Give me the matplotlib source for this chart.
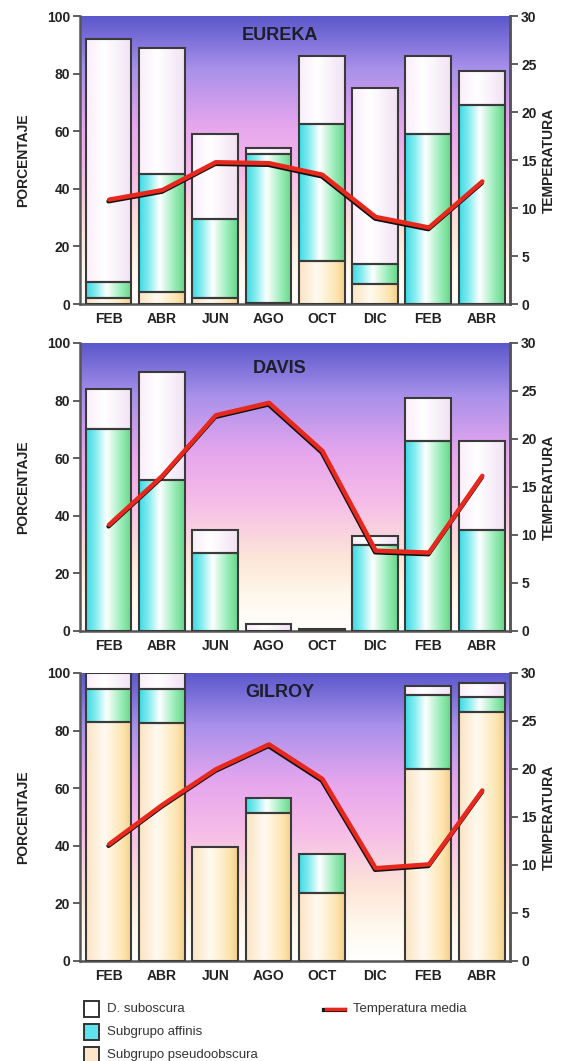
import numpy as np
import matplotlib
matplotlib.use("Agg")
import matplotlib.pyplot as plt
import matplotlib.transforms as mtransforms
from matplotlib.colors import LinearSegmentedColormap
from matplotlib.patches import Rectangle
from matplotlib.lines import Line2D

plt.rcParams["font.family"] = ["Liberation Sans", "DejaVu Sans"]

# ── data ──────────────────────────────────────────────────────────────────────
months = ["FEB", "ABR", "JUN", "AGO", "OCT", "DIC", "FEB", "ABR"]
sites = ["EUREKA", "DAVIS", "GILROY"]

# percentages per group (stacked: pseudoobscura, affinis, subobscura)
eureka_pseudo = [2, 4, 2, 0.5, 15, 7, 0, 0]
eureka_affinis = [5.5, 41, 27.5, 51.5, 47.5, 7, 59, 69]
eureka_subobs = [84.5, 44, 29.5, 2, 23.5, 61, 27, 12]
eureka_temp = [10.7, 11.7, 14.6, 14.5, 13.3, 8.9, 7.8, 12.6]

davis_pseudo = [0, 0, 0, 0, 0, 0, 0, 0]
davis_affinis = [70, 52.5, 27, 0, 0, 30, 66, 35]
davis_subobs = [14, 37.5, 8, 2.5, 0.8, 3, 15, 31]
davis_temp = [10.9, 16.0, 22.3, 23.6, 18.6, 8.2, 8.0, 16.0]

gilroy_pseudo = [83, 82.5, 39.5, 51.5, 23.5, 0, 66.5, 86.5]
gilroy_affinis = [11.5, 12, 0, 5, 13.5, 0, 26, 5]
gilroy_subobs = [5.5, 5.5, 0, 0, 0, 0, 3, 5]
gilroy_temp = [12.0, 16.1, 19.8, 22.4, 18.8, 9.5, 9.9, 17.6]

PSEUDO = [eureka_pseudo, davis_pseudo, gilroy_pseudo]
AFFINIS = [eureka_affinis, davis_affinis, gilroy_affinis]
SUBOBS = [eureka_subobs, davis_subobs, gilroy_subobs]
TEMPS = [eureka_temp, davis_temp, gilroy_temp]

legend_labels = ["D. suboscura", "Subgrupo affinis", "Subgrupo pseudoobscura"]
line_label = "Temperatura media"

# ── colours ───────────────────────────────────────────────────────────────────
bg_cmap = LinearSegmentedColormap.from_list("bg", [
    (0.00, "#ffffff"), (0.12, "#fff8ec"), (0.25, "#fde6d8"),
    (0.45, "#f6bce8"), (0.62, "#e6a6ee"), (0.82, "#a890ea"), (1.00, "#5b58cc")])
aff_cmap = LinearSegmentedColormap.from_list("aff", [
    (0.0, "#3cdbe4"), (0.22, "#8ceef0"), (0.45, "#ffffff"),
    (0.72, "#a8f0c4"), (1.0, "#66d889")])
pse_cmap = LinearSegmentedColormap.from_list("pse", [
    (0.0, "#fbe4c4"), (0.4, "#fffaf0"), (0.8, "#fde6b4"), (1.0, "#f4d08a")])
sub_cmap = LinearSegmentedColormap.from_list("sub", [
    (0.0, "#fbeefa"), (0.4, "#ffffff"), (1.0, "#f2e2f4")])
EDGE = "#3a3a3a"
TXT = "#222222"

W, H = 577, 1061
fig = plt.figure(figsize=(W / 100, H / 100), dpi=100)
fig.patch.set_facecolor("white")

grad_h = np.linspace(0, 1, 64).reshape(1, -1)
grad_v = np.linspace(0, 1, 256).reshape(-1, 1)

AX_L, AX_R = 80, 510
panel_bottoms = [304, 631, 961]
title_y = [0.934, 0.913, 0.934]
x = np.arange(len(months))
bw = 0.86
XL = (-0.535, 7.53)


def seg(ax, xc, y0, h, cmap):
    if h <= 0:
        return
    ax.imshow(grad_h, cmap=cmap, aspect="auto", origin="lower",
              extent=(xc - bw / 2, xc + bw / 2, y0, y0 + h), zorder=2,
              interpolation="bilinear")
    ax.add_patch(Rectangle((xc - bw / 2, y0), bw, h, fill=False,
                           edgecolor=EDGE, linewidth=1.5, zorder=3))


for k in range(3):
    b = panel_bottoms[k]
    ax = fig.add_axes([AX_L / W, (H - b) / H, (AX_R - AX_L) / W, 288 / H])
    ax.imshow(grad_v, cmap=bg_cmap, aspect="auto", origin="lower",
              extent=(XL[0], XL[1], 0, 100), zorder=0, interpolation="bilinear")

    for i in x:
        p, a, s = PSEUDO[k][i], AFFINIS[k][i], SUBOBS[k][i]
        seg(ax, i, 0, p, pse_cmap)
        seg(ax, i, p, a, aff_cmap)
        seg(ax, i, p + a, s, sub_cmap)
    ax.set_xlim(*XL)
    ax.set_ylim(0, 100)
    ax.set_xticks(x)
    ax.set_xticklabels(months, fontsize=10, fontweight="bold", color=TXT)
    ax.set_yticks(range(0, 101, 20))
    ax.set_yticklabels([str(v) for v in range(0, 101, 20)], fontsize=10,
                       fontweight="bold", color=TXT)
    ax.tick_params(axis="x", length=0, pad=6)
    ax.tick_params(axis="y", length=5, width=1.2, color="#444444", pad=2)
    for sp in ["left", "bottom", "right"]:
        ax.spines[sp].set_color("#555555")
        ax.spines[sp].set_linewidth(1.8)
    ax.spines["top"].set_visible(False)
    ax.set_ylabel("PORCENTAJE", fontsize=10, fontweight="bold", color=TXT,
                  labelpad=12)
    ax.text(0.465, title_y[k], sites[k], transform=ax.transAxes, ha="center",
            va="center", fontsize=13, fontweight="bold", color="#1e1e2a",
            zorder=5)

    ax2 = ax.twinx()
    ax2.set_ylim(0, 30)
    ax2.set_yticks(range(0, 31, 5))
    ax2.set_yticklabels([str(v) for v in range(0, 31, 5)], fontsize=10,
                        fontweight="bold", color=TXT)
    ax2.tick_params(axis="y", length=6, width=1.2, color="#444444", pad=2)
    for sp in ["left", "bottom", "top"]:
        ax2.spines[sp].set_visible(False)
    ax2.spines["right"].set_color("#555555")
    ax2.spines["right"].set_linewidth(1.8)
    ax2.set_ylabel("TEMPERATURA", fontsize=10, fontweight="bold", color=TXT,
                   labelpad=4)
    ax2.plot(x, TEMPS[k], color="#111111", linewidth=3.2, zorder=4,
             solid_joinstyle="round", solid_capstyle="round")
    up = mtransforms.offset_copy(ax2.transData, fig=fig, x=0.6, y=1.6, units="dots")
    ax2.plot(x, TEMPS[k], color="#e8281c", linewidth=3.2, zorder=5,
             transform=up, solid_joinstyle="round", solid_capstyle="round")

# ── legend ────────────────────────────────────────────────────────────────────
leg_face = ["#ffffff", "#5fe3ec", "#fde6c8"]
leg_y = [1009, 1032, 1055]
for lab, fc, yy in zip(legend_labels, leg_face, leg_y):
    fig.patches.append(Rectangle((84 / W, (H - yy - 8) / H), 15 / W, 16 / H,
                                 facecolor=fc, edgecolor="#333333", linewidth=1.4,
                                 transform=fig.transFigure, figure=fig))
    fig.text(107 / W, (H - yy) / H, lab, fontsize=9.5, color="#333333",
             va="center", ha="left")
fig.lines.append(Line2D([324 / W, 345 / W], [(H - 1010) / H] * 2, color="#111111",
                        linewidth=3, transform=fig.transFigure, figure=fig))
fig.lines.append(Line2D([326 / W, 345 / W], [(H - 1008.5) / H] * 2, color="#e8281c",
                        linewidth=2.5, transform=fig.transFigure, figure=fig))
fig.text(353 / W, (H - 1009) / H, line_label, fontsize=9.5, color="#333333",
         va="center", ha="left")

fig.savefig("out.png", dpi=100)
